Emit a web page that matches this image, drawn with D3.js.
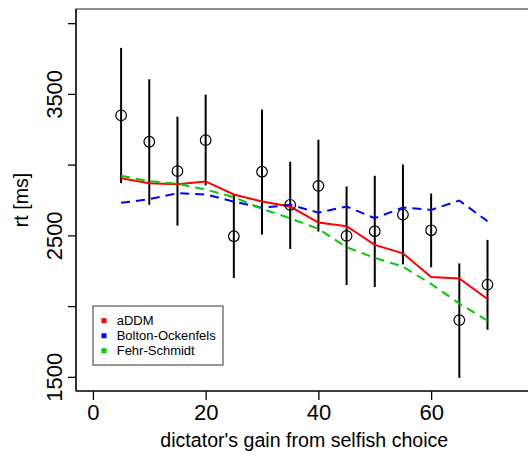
<!DOCTYPE html>
<html>
<head>
<meta charset="utf-8">
<script src="https://cdn.jsdelivr.net/npm/d3@7"></script>
<style>
  html, body { margin: 0; padding: 0; background: #fff; }
  svg { display: block; }
  text { font-family: "Liberation Sans", Arial, Helvetica, sans-serif; fill: #000; }
</style>
</head>
<body>
<svg id="chart" width="528" height="459"></svg>
<script>
// ---- data ----
const gains = [5, 10, 15, 20, 25, 30, 35, 40, 45, 50, 55, 60, 65, 70];
const rtMean = [3348, 3162, 2954, 3173, 2494, 2950, 2716, 2850, 2496, 2529, 2647, 2536, 1901, 2152];
const rtLow  = [2869, 2716, 2569, 2853, 2199, 2506, 2404, 2527, 2149, 2135, 2295, 2274, 1493, 1833];
const rtHigh = [3825, 3603, 3339, 3495, 2787, 3389, 3020, 3176, 2846, 2921, 3001, 2796, 2302, 2468];
const aDDM   = [2904, 2869, 2862, 2881, 2789, 2739, 2704, 2591, 2565, 2433, 2373, 2206, 2196, 2050];
const bolton = [2730, 2756, 2798, 2789, 2739, 2695, 2716, 2661, 2704, 2621, 2697, 2680, 2746, 2600];
const fehr   = [2921, 2883, 2865, 2824, 2770, 2688, 2621, 2546, 2416, 2341, 2279, 2156, 2019, 1897];
const xTicks = [0, 20, 40, 60];
const yTicks = [1500, 2000, 2500, 3000, 3500, 4000];
const yTickLabels = ["1500", "", "2500", "", "3500", ""];
const seriesNames = ["aDDM", "Bolton-Ockenfels", "Fehr-Schmidt"];
const seriesColors = ["#ff0000", "#0000ff", "#00cd00"];
const seriesDash = [null, "9,6", "9,6"];
const xTitle = "dictator's gain from selfish choice";
const yTitle = "rt [ms]";

// ---- layout ----
const svg = d3.select("#chart");
const L = 76, R = 532.6, T = 9, B = 391;
const x = d3.scaleLinear().domain([-3, 78]).range([L, R]);
const y = d3.scaleLinear().domain([1400, 4100]).range([B, T]);

// box
svg.append("rect").attr("x", L).attr("y", T).attr("width", R - L).attr("height", B - T)
  .attr("fill", "none").attr("stroke", "#6e6e6e").attr("stroke-width", 1.5);

// y axis
const yAxis = d3.axisLeft(y).tickValues(yTicks).tickSize(8).tickPadding(0)
  .tickFormat((d, i) => yTickLabels[i]);
const gy = svg.append("g").attr("transform", `translate(${L},0)`).call(yAxis);
gy.select(".domain").remove();
gy.append("line").attr("x1", 0).attr("x2", 0).attr("y1", T).attr("y2", B)
  .attr("stroke", "#000").attr("stroke-width", 1.3);
gy.selectAll(".tick line").attr("stroke", "#000").attr("stroke-width", 1.3);
gy.selectAll(".tick text")
  .attr("x", null).attr("dy", null)
  .attr("transform", "translate(-14,0) rotate(-90)")
  .attr("text-anchor", "middle")
  .style("font-size", "22px");

// x axis
const xAxis = d3.axisBottom(x).tickValues(xTicks).tickSize(9).tickPadding(0).tickFormat(d3.format("d"));
const gx = svg.append("g").attr("transform", `translate(0,${B})`).call(xAxis);
gx.select(".domain").remove();
gx.append("line").attr("x1", L).attr("x2", R).attr("y1", 0).attr("y2", 0)
  .attr("stroke", "#222").attr("stroke-width", 1.3);
gx.selectAll(".tick line").attr("stroke", "#000").attr("stroke-width", 1.3);
gx.selectAll(".tick text").attr("y", 29).attr("dy", null).style("font-size", "22px");

// titles
svg.append("text").attr("x", (L + R) / 2).attr("y", 447).attr("text-anchor", "middle")
  .style("font-size", "19.6px").text(xTitle);
svg.append("text").attr("transform", `translate(28,${(T + B) / 2}) rotate(-90)`)
  .attr("text-anchor", "middle").style("font-size", "19.6px").text(yTitle);

// error bars
svg.append("g").selectAll("line").data(gains).join("line")
  .attr("x1", d => x(d)).attr("x2", d => x(d))
  .attr("y1", (d, i) => y(rtLow[i])).attr("y2", (d, i) => y(rtHigh[i]))
  .attr("stroke", "#000").attr("stroke-width", 2);

// model lines
const modelData = [aDDM, bolton, fehr];
const lineGen = d3.line().x((d, i) => x(gains[i])).y(d => y(d));
modelData.forEach((vals, k) => {
  svg.append("path").datum(vals).attr("d", lineGen)
    .attr("fill", "none").attr("stroke", seriesColors[k]).attr("stroke-width", 2)
    .attr("stroke-dasharray", seriesDash[k]);
});

// points
svg.append("g").selectAll("circle").data(gains).join("circle")
  .attr("cx", d => x(d)).attr("cy", (d, i) => y(rtMean[i])).attr("r", 5.3)
  .attr("fill", "none").attr("stroke", "#000").attr("stroke-width", 1.2);

// legend
const lg = svg.append("g");
lg.append("rect").attr("x", 93).attr("y", 306).attr("width", 130).attr("height", 59)
  .attr("fill", "#fff").attr("stroke", "#555").attr("stroke-width", 1.2);
seriesNames.forEach((name, k) => {
  const cy = 320.7 + k * 15;
  lg.append("rect").attr("x", 101.5).attr("y", cy - 2.5).attr("width", 5).attr("height", 5)
    .attr("fill", seriesColors[k]);
  lg.append("text").attr("x", 116.7).attr("y", cy + 4.6).style("font-size", "13px").text(name);
});
</script>
</body>
</html>
